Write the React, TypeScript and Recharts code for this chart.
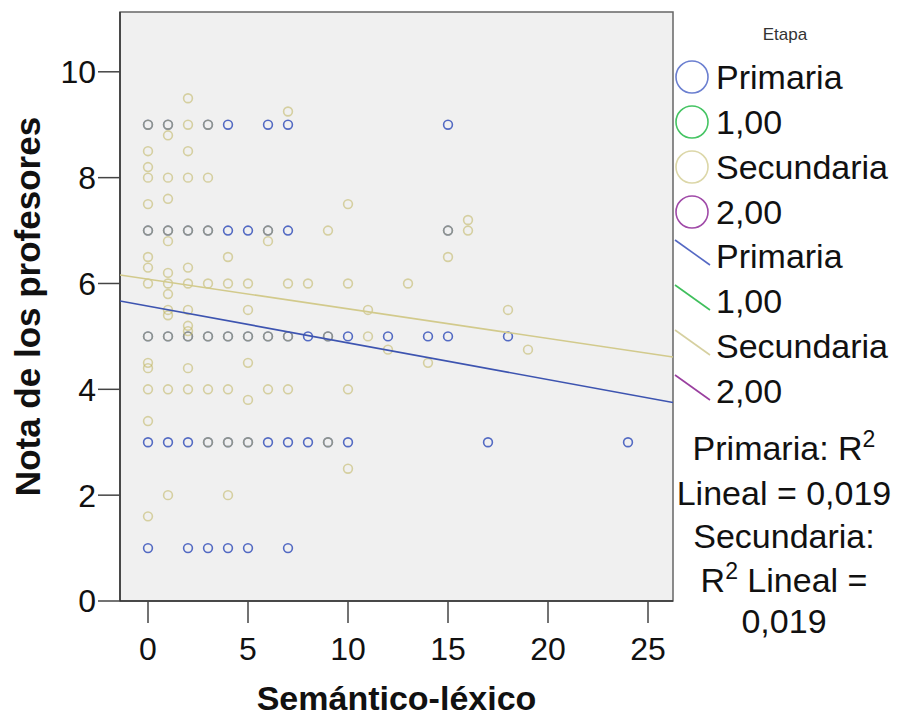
import { ScatterChart, Scatter, XAxis, YAxis, ReferenceArea } from "recharts";

const FONT = 'Arial, "Liberation Sans", Helvetica, sans-serif';

const xTicks = [0, 5, 10, 15, 20, 25];
const yTicks = [0, 2, 4, 6, 8, 10];
const xDomain: [number, number] = [-1.4, 26.25];
const yDomain: [number, number] = [0, 11.13];

// [Semántico-léxico, Nota de los profesores]
const primariaPoints: [number, number][] = [
  [0, 9], [1, 9], [3, 9], [4, 9], [6, 9], [7, 9], [15, 9],
  [0, 7], [1, 7], [2, 7], [3, 7], [4, 7], [5, 7], [6, 7], [7, 7], [15, 7],
  [0, 5], [1, 5], [2, 5], [3, 5], [4, 5], [5, 5], [6, 5], [7, 5], [8, 5], [9, 5], [10, 5],
  [12, 5], [14, 5], [15, 5], [18, 5],
  [0, 3], [1, 3], [2, 3], [3, 3], [4, 3], [5, 3], [6, 3], [7, 3], [8, 3], [9, 3], [10, 3],
  [17, 3], [24, 3],
  [0, 1], [2, 1], [3, 1], [4, 1], [5, 1], [7, 1],
];

const secundariaPoints: [number, number][] = [
  [2, 9.5], [7, 9.25],
  [0, 9], [1, 9], [2, 9], [3, 9],
  [1, 8.8], [0, 8.5], [2, 8.5], [0, 8.2],
  [0, 8], [1, 8], [2, 8], [3, 8],
  [1, 7.6], [0, 7.5], [10, 7.5], [16, 7.2],
  [0, 7], [1, 7], [2, 7], [3, 7], [6, 7], [9, 7], [15, 7], [16, 7],
  [1, 6.8], [6, 6.8], [0, 6.5], [4, 6.5], [15, 6.5], [0, 6.3], [2, 6.3], [1, 6.2],
  [0, 6], [1, 6], [2, 6], [3, 6], [4, 6], [5, 6], [7, 6], [8, 6], [10, 6], [13, 6],
  [1, 5.8], [1, 5.5], [2, 5.5], [5, 5.5], [11, 5.5], [18, 5.5], [1, 5.4], [2, 5.2], [2, 5.1],
  [0, 5], [1, 5], [2, 5], [3, 5], [4, 5], [5, 5], [6, 5], [7, 5], [9, 5], [11, 5],
  [12, 4.75], [19, 4.75], [0, 4.5], [5, 4.5], [14, 4.5], [0, 4.4], [2, 4.4],
  [0, 4], [1, 4], [2, 4], [3, 4], [4, 4], [6, 4], [7, 4], [10, 4],
  [5, 3.8], [0, 3.4],
  [3, 3], [4, 3], [5, 3], [9, 3],
  [10, 2.5], [1, 2], [4, 2], [0, 1.6],
];

// fit lines read at the plot edges
const primariaFit: [number, number][] = [[-1.4, 5.67], [26.25, 3.75]];
const secundariaFit: [number, number][] = [[-1.4, 6.16], [26.25, 4.61]];

const BLUE = "#4a62c0";
const BLUE_LINE = "#3d54b0";
const OLIVE = "#bfb45e";
const OLIVE_LINE = "#d2ca8c";

const toXY = (pts: [number, number][]) => pts.map(([x, y]) => ({ x, y }));

const ring = (color: string, opacity: number) => (props: any) => (
  <circle
    cx={props.cx}
    cy={props.cy}
    r={4.4}
    fill="none"
    stroke={color}
    strokeWidth={1.6}
    strokeOpacity={opacity}
  />
);

const noShape = () => <g />;

const legendCircles = [
  { label: "Primaria", color: "#6b7fd0" },
  { label: "1,00", color: "#45c463" },
  { label: "Secundaria", color: "#dcd7a8" },
  { label: "2,00", color: "#a04aa8" },
];
const legendLines = [
  { label: "Primaria", color: "#5569c4" },
  { label: "1,00", color: "#3fbf5c" },
  { label: "Secundaria", color: "#d6d0a0" },
  { label: "2,00", color: "#9a3f9f" },
];

const Side = () => (
  <svg width={229} height={717} style={{ position: "absolute", left: 672, top: 0 }}>
    <g fontFamily={FONT}>
      <text x={113} y={40} fontSize={17} fill="#333" textAnchor="middle">Etapa</text>
      {legendCircles.map((d, i) => (
        <g key={"c" + i}>
          <circle cx={20} cy={77 + i * 45} r={16} fill="none" stroke={d.color} strokeWidth={1.6} />
          <text x={44} y={89 + i * 45} fontSize={34} fill="#111">{d.label}</text>
        </g>
      ))}
      {legendLines.map((d, i) => (
        <g key={"l" + i}>
          <line x1={3} y1={240 + i * 45} x2={38} y2={265 + i * 45} stroke={d.color} strokeWidth={1.6} />
          <text x={44} y={268 + i * 45} fontSize={34} fill="#111">{d.label}</text>
        </g>
      ))}
      <g fontSize={34} fill="#111" textAnchor="middle">
        <text x={112} y={460}>
          Primaria: R<tspan dy={-13} fontSize={23}>2</tspan>
        </text>
        <text x={112} y={505}>Lineal = 0,019</text>
        <text x={112} y={548}>Secundaria:</text>
        <text x={112} y={592}>
          R<tspan dy={-13} fontSize={23}>2</tspan>
          <tspan dy={13}> Lineal =</tspan>
        </text>
        <text x={112} y={633}>0,019</text>
      </g>
    </g>
  </svg>
);

export default function App() {
  const tick = { fontSize: 32, fill: "#111", fontFamily: FONT };
  return (
    <div style={{ position: "absolute", left: 0, top: 0, width: 901, height: 717, background: "#fff" }}>
      <ScatterChart
        width={901}
        height={717}
        margin={{ top: 12, right: 228, bottom: 0, left: 0 }}
      >
        <XAxis
          type="number"
          dataKey="x"
          domain={xDomain}
          ticks={xTicks}
          allowDataOverflow
          height={116}
          tick={tick}
          tickSize={22}
          tickMargin={14}
          axisLine={{ stroke: "#333", strokeWidth: 1.5 }}
          tickLine={{ stroke: "#444", strokeWidth: 1.5 }}
          label={(p: any) => {
            const vb = p.viewBox;
            return (
              <text
                x={vb.x + vb.width / 2}
                y={vb.y + vb.height - 7}
                textAnchor="middle"
                fontFamily={FONT}
                fontWeight="bold"
                fontSize={34}
                fill="#111"
              >
                Semántico-léxico
              </text>
            );
          }}
        />
        <YAxis
          type="number"
          dataKey="y"
          domain={yDomain}
          ticks={yTicks}
          allowDataOverflow
          width={120}
          tick={tick}
          tickSize={22}
          tickMargin={2}
          axisLine={{ stroke: "#333", strokeWidth: 1.5 }}
          tickLine={{ stroke: "#444", strokeWidth: 1.5 }}
          label={(p: any) => {
            const vb = p.viewBox;
            const cy = vb.y + vb.height / 2;
            return (
              <text
                x={40}
                y={cy}
                transform={`rotate(-90, 40, ${cy})`}
                textAnchor="middle"
                fontFamily={FONT}
                fontWeight="bold"
                fontSize={35}
                fill="#111"
              >
                Nota de los profesores
              </text>
            );
          }}
        />
        <ReferenceArea
          x1={xDomain[0]}
          x2={xDomain[1]}
          y1={yDomain[0]}
          y2={yDomain[1]}
          fill="#f0f0f0"
          fillOpacity={1}
          stroke="#666"
          strokeWidth={1.5}
        />
        <Scatter data={toXY(primariaPoints)} shape={ring(BLUE, 0.95)} isAnimationActive={false} />
        <Scatter data={toXY(secundariaPoints)} shape={ring(OLIVE, 0.55)} isAnimationActive={false} />
        <Scatter
          data={toXY(primariaFit)}
          line={{ stroke: BLUE_LINE, strokeWidth: 1.6 }}
          lineType="joint"
          shape={noShape}
          isAnimationActive={false}
        />
        <Scatter
          data={toXY(secundariaFit)}
          line={{ stroke: OLIVE_LINE, strokeWidth: 1.6 }}
          lineType="joint"
          shape={noShape}
          isAnimationActive={false}
        />
      </ScatterChart>
      <Side />
    </div>
  );
}
